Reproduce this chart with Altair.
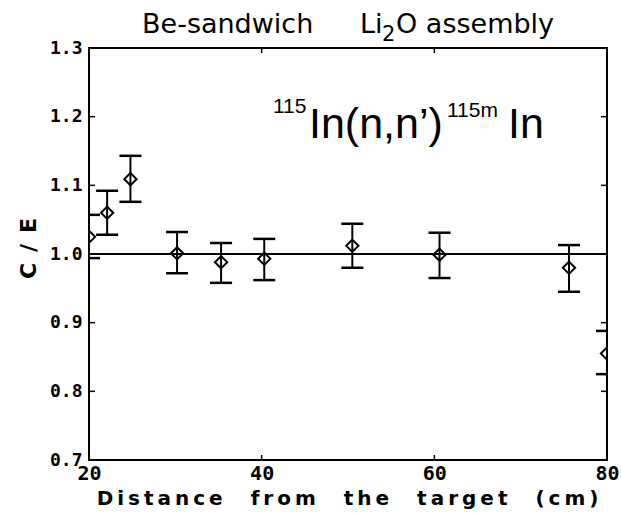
import altair as alt
import pandas as pd

# ---- data ----
distance = [20.0, 22.1, 24.8, 30.2, 35.3, 40.3, 50.5, 60.6, 75.6, 80.0]
ce_ratio = [1.025, 1.060, 1.109, 1.001, 0.988, 0.993, 1.012, 0.999, 0.980, 0.855]
err_upper = [1.057, 1.092, 1.143, 1.032, 1.016, 1.022, 1.044, 1.031, 1.013, 0.888]
err_lower = [0.994, 1.028, 1.076, 0.972, 0.958, 0.962, 0.980, 0.965, 0.945, 0.825]

y_ticks = [0.7, 0.8, 0.9, 1.0, 1.1, 1.2, 1.3]
y_inner_ticks = [0.8, 0.9, 1.0, 1.1, 1.2]
x_ticks = [20, 40, 60, 80]
x_inner_ticks = [40, 60]

df = pd.DataFrame({"d": distance, "ce": ce_ratio, "hi": err_upper, "lo": err_lower})
ytk = pd.DataFrame({"v": y_inner_ticks})
xtk = pd.DataFrame({"v": x_inner_ticks})
one = pd.DataFrame({"k": [0]})

W, H = 518, 412

xs = alt.Scale(domain=[20, 80], nice=False)
ys = alt.Scale(domain=[0.7, 1.3], nice=False)

x_axis = alt.Axis(values=x_ticks, format="d", labelFontSize=20, labelPadding=3,
                  labelFlush=False, labelOverlap=False,
                  title="D\u2009i\u2009s\u2009t\u2009a\u2009n\u2009c\u2009e\u2009\u2003\u2009f\u2009r\u2009o\u2009m\u2009\u2003\u2009t\u2009h\u2009e\u2009\u2003\u2009t\u2009a\u2009r\u2009g\u2009e\u2009t\u2009\u2003\u2009(\u2009c\u2009m\u2009)",
                  titleFont="DejaVu Sans", titleFontWeight="bold", titleFontSize=20,
                  titleX=258, titleY=44, titleAlign="center", titleBaseline="alphabetic")
y_axis = alt.Axis(values=y_ticks, format=".1f", labelFontSize=18, labelPadding=7,
                  labelFlush=False, labelOverlap=False,
                  title="C\u2002/\u2002E", titleFont="DejaVu Sans", titleFontWeight="bold",
                  titleFontSize=22, titleAngle=-90, titleX=-61, titleY=200,
                  titleAlign="center", titleBaseline="middle")

base = alt.Chart(df)

bars = base.mark_rule(color="black", strokeWidth=2, clip=True).encode(
    x=alt.X("d:Q", scale=xs, axis=x_axis),
    y=alt.Y("lo:Q", scale=ys, axis=y_axis),
    y2="hi:Q",
)
cap_hi = base.mark_tick(orient="horizontal", size=22, thickness=2.5, color="black",
                        opacity=1, clip=True).encode(
    x=alt.X("d:Q", scale=xs), y=alt.Y("hi:Q", scale=ys))
cap_lo = base.mark_tick(orient="horizontal", size=22, thickness=2.5, color="black",
                        opacity=1, clip=True).encode(
    x=alt.X("d:Q", scale=xs), y=alt.Y("lo:Q", scale=ys))
pts = base.mark_point(shape="diamond", size=150, filled=False, color="black",
                      strokeWidth=2, opacity=1, clip=True).encode(
    x=alt.X("d:Q", scale=xs), y=alt.Y("ce:Q", scale=ys))

ref = alt.Chart(one).mark_rule(color="black", strokeWidth=2).encode(
    y=alt.datum(1.0, scale=ys))

yt_left = alt.Chart(ytk).mark_tick(orient="horizontal", size=12, thickness=1.5,
                                   color="black", opacity=1, clip=True).encode(
    y=alt.Y("v:Q", scale=ys), x=alt.value(0))
yt_right = alt.Chart(ytk).mark_tick(orient="horizontal", size=12, thickness=1.5,
                                    color="black", opacity=1, clip=True).encode(
    y=alt.Y("v:Q", scale=ys), x=alt.value(W))
xt_bot = alt.Chart(xtk).mark_tick(orient="vertical", size=10, thickness=1.5,
                                  color="black", opacity=1, clip=True).encode(
    x=alt.X("v:Q", scale=xs), y=alt.value(H))
xt_top = alt.Chart(xtk).mark_tick(orient="vertical", size=10, thickness=1.5,
                                  color="black", opacity=1, clip=True).encode(
    x=alt.X("v:Q", scale=xs), y=alt.value(0))


def label(txt, x, y, size, font):
    return alt.Chart(one).mark_text(text=txt, align="left", baseline="alphabetic",
                                    fontSize=size, font=font, color="black").encode(
        x=alt.value(x), y=alt.value(y))


texts = [
    label("Be-sandwich", 53, -15, 27, "DejaVu Sans"),
    label("Li", 271, -15, 27, "DejaVu Sans"),
    label("2", 293, -7, 21, "DejaVu Sans"),
    label("O assembly", 307, -15, 27, "DejaVu Sans"),
    label("115", 184, 65, 21, "Liberation Sans"),
    label("In(n,n\u2019)", 220, 90, 43, "Liberation Sans"),
    label("115m", 358, 69, 21, "Liberation Sans"),
    label("In", 419, 90, 43, "Liberation Sans"),
]

chart = alt.layer(bars, cap_hi, cap_lo, pts, ref, yt_left, yt_right, xt_bot, xt_top,
                  *texts).properties(
    width=W, height=H,
    autosize=alt.AutoSizeParams(type="none"),
    padding={"left": 89, "top": 48, "right": 14, "bottom": 56},
    background="white",
).configure_view(stroke="black", strokeWidth=2).configure_axis(
    grid=False, domain=False, ticks=False, labelFont="DejaVu Sans Mono",
    labelFontWeight="bold", labelColor="black", titleColor="black")

chart.save("out.html", embed_options={"renderer": "svg", "actions": False})
